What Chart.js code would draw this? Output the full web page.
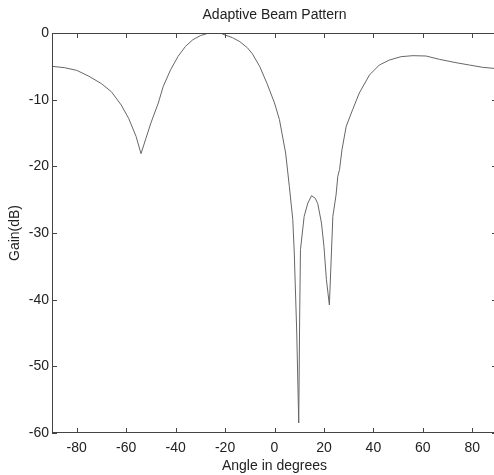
<!DOCTYPE html>
<html>
<head>
<meta charset="utf-8">
<title>Adaptive Beam Pattern</title>
<script src="https://cdn.jsdelivr.net/npm/chart.js@4/dist/chart.umd.min.js"></script>
<style>
  html, body { margin: 0; padding: 0; background: #fff; overflow: hidden; }
</style>
</head>
<body>
<canvas id="beamChart" width="500" height="475"></canvas>
<script>
// Angle (deg) and gain (dB)
const angles = [
  -90, -85, -80, -75, -70, -66, -62, -59, -56, -54,
  -52, -50, -47, -45, -42, -39, -36, -33, -30, -27,
  -24, -22, -20, -17, -14, -11, -9, -6, -3, 0,
  2, 3, 4.5, 6, 7.4, 8, 9, 9.8, 10.2, 10.5,
  12, 13.5, 15, 16.5, 17.5, 19, 20, 21, 22.2, 23.6,
  24.9, 25.6, 26.3, 27.3, 29, 31.6, 34.3, 38.4, 42.4, 46.5,
  51.2, 56, 61.3, 66.7, 73.4, 78.8, 84.2, 90
];
const gainDb = [
  -5.0, -5.2, -5.6, -6.5, -7.6, -8.8, -10.8, -12.8, -15.5, -18.1,
  -15.8, -13.5, -10.5, -8.0, -5.5, -3.5, -2.0, -1.0, -0.4, -0.05,
  0, 0, -0.3, -0.7, -1.3, -2.2, -3.1, -5.0, -7.6, -10.5,
  -13.0, -15.0, -18.0, -23.0, -28.0, -33.0, -45.0, -58.5, -42.0, -32.5,
  -27.5, -25.5, -24.4, -24.8, -25.6, -28.5, -32.0, -37.0, -40.8, -27.5,
  -24.3, -21.5, -20.5, -17.5, -14.0, -11.5, -9.0, -6.3, -4.8, -4.05,
  -3.55, -3.4, -3.45, -3.95, -4.45, -4.8, -5.15, -5.35
];
const xTicks = [-80, -60, -40, -20, 0, 20, 40, 60, 80];
const yTicks = [-60, -50, -40, -30, -20, -10, 0];

const FONT = { family: "'Liberation Sans', Arial, sans-serif", size: 14 };
const INK = '#222';

// Matlab-like box with inward tick marks
const boxPlugin = {
  id: 'matlabBox',
  afterDraw(chart) {
    const ctx = chart.ctx;
    const a = chart.chartArea;
    const x = chart.scales.x, y = chart.scales.y;
    const tl = 5;
    ctx.save();
    ctx.strokeStyle = '#444';
    ctx.lineWidth = 1;
    ctx.strokeRect(a.left + 0.5, a.top + 0.5, a.right - a.left - 1, a.bottom - a.top - 1);
    ctx.beginPath();
    xTicks.forEach(v => {
      const px = Math.round(x.getPixelForValue(v)) + 0.5;
      ctx.moveTo(px, a.bottom); ctx.lineTo(px, a.bottom - tl);
      ctx.moveTo(px, a.top);    ctx.lineTo(px, a.top + tl);
    });
    yTicks.forEach(v => {
      const py = Math.round(y.getPixelForValue(v)) + 0.5;
      ctx.moveTo(a.left, py);  ctx.lineTo(a.left + tl, py);
      ctx.moveTo(a.right, py); ctx.lineTo(a.right - tl, py);
    });
    ctx.stroke();
    ctx.restore();
  }
};

const ctx = document.getElementById('beamChart').getContext('2d');
new Chart(ctx, {
  type: 'line',
  data: {
    datasets: [{
      label: 'Beam pattern',
      data: angles.map((a, i) => ({ x: a, y: gainDb[i] })),
      borderColor: '#666',
      borderWidth: 1,
      pointRadius: 0,
      tension: 0,
      fill: false
    }]
  },
  options: {
    responsive: false,
    animation: false,
    layout: { padding: { left: 0, right: 3, top: 0, bottom: 0 } },
    plugins: {
      legend: { display: false },
      tooltip: { enabled: false },
      title: {
        display: true,
        text: 'Adaptive Beam Pattern',
        color: INK,
        font: { ...FONT, weight: 'normal' },
        fullSize: false,
        padding: { top: 6.6, bottom: 9.6 }
      }
    },
    scales: {
      x: {
        type: 'linear',
        min: -90,
        max: 90,
        grid: { display: false, drawTicks: false },
        border: { display: false },
        afterBuildTicks: s => { s.ticks = xTicks.map(v => ({ value: v })); },
        afterFit: s => { s.height = 42; },
        ticks: { color: INK, font: FONT, padding: 7, maxRotation: 0 },
        title: { display: true, text: 'Angle in degrees', color: INK, font: FONT, padding: { top: 0, bottom: 0 } }
      },
      y: {
        type: 'linear',
        min: -60,
        max: 0,
        grid: { display: false, drawTicks: false },
        border: { display: false },
        afterBuildTicks: s => { s.ticks = yTicks.map(v => ({ value: v })); },
        afterFit: s => { s.width = 52; },
        ticks: { color: INK, font: FONT, padding: 3 },
        title: { display: true, text: 'Gain(dB)', color: INK, font: FONT, padding: { top: 6.6, bottom: 0 } }
      }
    }
  },
  plugins: [boxPlugin]
});
</script>
</body>
</html>
